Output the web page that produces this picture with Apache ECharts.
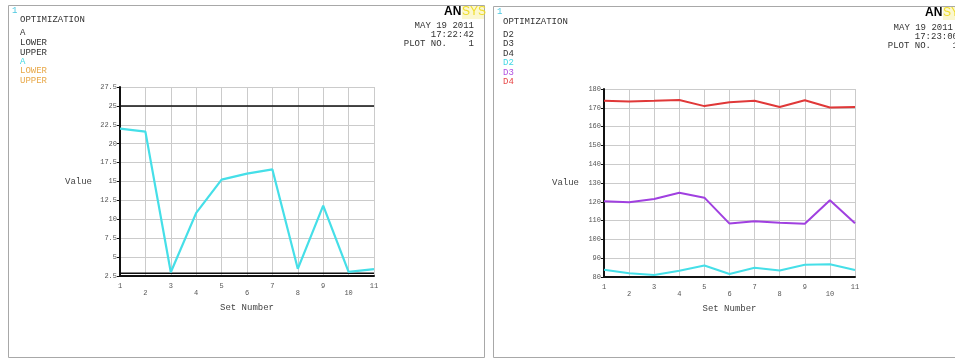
<!DOCTYPE html>
<html style="height: 100%">
<head>
<meta charset="utf-8">
<script src="https://cdn.jsdelivr.net/npm/echarts@6/dist/echarts.min.js"></script>
</head>
<body style="height: 100%; margin: 0; background: #fff">
<div id="container" style="width: 955px; height: 360px"></div>
<script type="text/javascript">
// set numbers
var sets = ['1', '2', '3', '4', '5', '6', '7', '8', '9', '10', '11'];
// left plot: A with its limits
var valA = [22.0, 21.6, 3.0, 10.85, 15.25, 16.05, 16.6, 3.45, 11.8, 3.05, 3.4];
var lowerA = [2.85, 2.85, 2.85, 2.85, 2.85, 2.85, 2.85, 2.85, 2.85, 2.85, 2.85];
var upperA = [25, 25, 25, 25, 25, 25, 25, 25, 25, 25, 25];
// right plot: D2, D3, D4
var valD2 = [83.9, 82.0, 81.1, 83.3, 86.1, 81.6, 84.9, 83.5, 86.5, 86.8, 83.7];
var valD3 = [120.3, 119.8, 121.5, 124.8, 122.2, 108.4, 109.6, 108.8, 108.3, 120.8, 108.6];
var valD4 = [173.8, 173.4, 173.7, 174.1, 170.9, 172.9, 173.7, 170.4, 174.0, 170.2, 170.4];
// tick settings
var leftTicks = {min: 2.5, max: 27.5, step: 2.5};
var rightTicks = {min: 80, max: 180, step: 10};

var mono = '"Liberation Mono", "DejaVu Sans Mono", monospace';
var txtColor = '#333';

var dom = document.getElementById('container');
var myChart = echarts.init(dom, null, {renderer: 'canvas'});

function xAx(idx) {
    return {
        type: 'category',
        gridIndex: idx,
        data: sets,
        boundaryGap: false,
        name: 'Set Number',
        nameLocation: 'middle',
        nameGap: 27,
        nameTextStyle: {fontFamily: mono, fontSize: 9, color: '#444'},
        axisLine: {lineStyle: {color: '#111', width: 2}},
        axisTick: {show: false},
        splitLine: {show: true, lineStyle: {color: '#cbcbcb', width: 1}},
        axisLabel: {
            margin: 7,
            interval: 0,
            fontFamily: mono,
            fontSize: 7,
            color: '#555',
            formatter: function (v, i) {
                return i % 2 === 0 ? '{o|' + v + '}' : '{e|' + v + '}';
            },
            rich: {
                o: {fontFamily: mono, fontSize: 7, color: '#555'},
                e: {fontFamily: mono, fontSize: 7, color: '#555', padding: [7, 0, 0, 0]}
            }
        }
    };
}

function yAx(idx, t, gap) {
    return {
        type: 'value',
        gridIndex: idx,
        min: t.min,
        max: t.max,
        interval: t.step,
        name: 'Value',
        nameLocation: 'middle',
        nameRotate: 0,
        nameGap: gap,
        nameTextStyle: {fontFamily: mono, fontSize: 9, color: '#444'},
        axisLine: {show: true, lineStyle: {color: '#111', width: 2}},
        axisTick: {show: true, length: 3, lineStyle: {color: '#111'}},
        splitLine: {show: true, lineStyle: {color: '#cbcbcb', width: 1}},
        axisLabel: {margin: 3, fontFamily: mono, fontSize: 7, color: '#555'}
    };
}

function lineS(name, x, data, color, w) {
    return {
        name: name,
        type: 'line',
        xAxisIndex: x,
        yAxisIndex: x,
        data: data,
        symbol: 'none',
        silent: true,
        animation: false,
        lineStyle: {color: color, width: w}
    };
}

function txt(x, y, s, color, extra) {
    var st = {text: s, fill: color, font: '9px ' + mono, textVerticalAlign: 'middle'};
    if (extra) { for (var k in extra) st[k] = extra[k]; }
    return {type: 'text', x: x, y: y, style: st, silent: true};
}

var logoBold = {font: 'bold 12px "Liberation Sans", sans-serif'};
var logoThin = {font: '12px "Liberation Sans", sans-serif'};

var graphics = [
    {type: 'rect', shape: {x: 8.5, y: 5.5, width: 476, height: 352}, style: {fill: 'none', stroke: '#a8a8a8', lineWidth: 1}, silent: true},
    {type: 'rect', shape: {x: 493.5, y: 6.5, width: 470, height: 351}, style: {fill: 'none', stroke: '#a8a8a8', lineWidth: 1}, silent: true},
    {type: 'rect', shape: {x: 462, y: 6, width: 22, height: 13}, style: {fill: '#fbf7cf'}, silent: true},
    {type: 'rect', shape: {x: 943, y: 7, width: 14, height: 13}, style: {fill: '#fbf7cf'}, silent: true},
    // left header
    txt(12, 11, '1', '#4cc8e0'),
    txt(20, 20, 'OPTIMIZATION', txtColor),
    txt(20, 33, 'A', txtColor),
    txt(20, 43, 'LOWER', txtColor),
    txt(20, 53, 'UPPER', txtColor),
    txt(20, 62, 'A', '#40d8e4'),
    txt(20, 71, 'LOWER', '#e8a848'),
    txt(20, 81, 'UPPER', '#e8a848'),
    txt(444, 12, 'AN', '#000', logoBold),
    txt(462, 12, 'SYS', '#efdc2a', logoThin),
    txt(474, 26, 'MAY 19 2011', txtColor, {textAlign: 'right'}),
    txt(474, 35, '17:22:42', txtColor, {textAlign: 'right'}),
    txt(474, 44, 'PLOT NO.    1', txtColor, {textAlign: 'right'}),
    // right header
    txt(497, 12, '1', '#4cc8e0'),
    txt(503, 22, 'OPTIMIZATION', txtColor),
    txt(503, 35, 'D2', txtColor),
    txt(503, 44, 'D3', txtColor),
    txt(503, 54, 'D4', txtColor),
    txt(503, 63, 'D2', '#40d8e4'),
    txt(503, 73, 'D3', '#b050e0'),
    txt(503, 82, 'D4', '#e84848'),
    txt(925, 13, 'AN', '#000', logoBold),
    txt(943, 13, 'SYS', '#efdc2a', logoThin),
    txt(953, 28, 'MAY 19 2011', txtColor, {textAlign: 'right'}),
    txt(958, 37, '17:23:00', txtColor, {textAlign: 'right'}),
    txt(958, 46, 'PLOT NO.    1', txtColor, {textAlign: 'right'})
];

var option = {
    backgroundColor: '#fff',
    animation: false,
    grid: [
        {left: 120, top: 87, width: 254, height: 189},
        {left: 604, top: 89, width: 251, height: 188}
    ],
    xAxis: [xAx(0), xAx(1)],
    yAxis: [yAx(0, leftTicks, 28), yAx(1, rightTicks, 25)],
    series: [
        lineS('LOWER', 0, lowerA, '#111', 1.5),
        lineS('UPPER', 0, upperA, '#111', 1.5),
        lineS('A', 0, valA, '#45dfe8', 2.2),
        lineS('D2', 1, valD2, '#45dfe8', 2),
        lineS('D3', 1, valD3, '#a040e0', 2),
        lineS('D4', 1, valD4, '#e03838', 2)
    ],
    graphic: graphics
};

if (option && typeof option === "object") {
    myChart.setOption(option, true);
}
</script>
</body>
</html>
